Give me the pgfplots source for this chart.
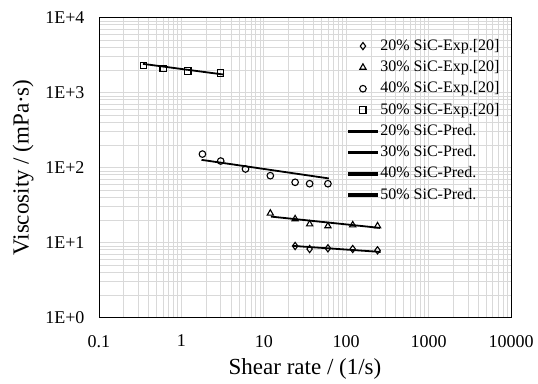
\documentclass[border=0pt]{standalone}
\usepackage{fontspec}
\setmainfont{Liberation Serif}
\usepackage{pgfplots}
\pgfplotsset{compat=1.18}
\definecolor{gridgray}{RGB}{217,217,217}
\pgfplotsset{predline/.style={black, line width=1.8pt, no marks, line cap=rect,
  legend image code/.code={\fill[black] (0pt,-0.9pt) rectangle (28pt,0.9pt);}}}
\begin{document}
\begin{tikzpicture}
\path[use as bounding box] (-99pt,-65.5pt) rectangle (439pt,317.5pt);
\begin{axis}[
  at={(0pt,0pt)}, anchor=south west,
  scale only axis, width=412pt, height=300pt,
  xmode=log, ymode=log,
  xmin=0.1, xmax=10000, ymin=1, ymax=10000,
  xtick={0.1,1,10,100,1000,10000},
  xticklabels={0.1,1,10,100,1000,10000},
  ytick={1,10,100,1000,10000},
  yticklabels={1E+0,1E+1,1E+2,1E+3,1E+4},
  minor xtick={0.2,0.3,0.4,0.5,0.6,0.7,0.8,0.9,2,3,4,5,6,7,8,9,20,30,40,50,60,70,80,90,200,300,400,500,600,700,800,900,2000,3000,4000,5000,6000,7000,8000,9000},
  minor ytick={2,3,4,5,6,7,8,9,20,30,40,50,60,70,80,90,200,300,400,500,600,700,800,900,2000,3000,4000,5000,6000,7000,8000,9000},
  major tick length=0pt, minor tick length=0pt,
  grid=both,
  major grid style={gridgray, line width=0.8pt},
  minor grid style={gridgray, line width=0.8pt},
  axis line style={black, line width=0.9pt},
  ticklabel style={font=\fontsize{18}{20}\selectfont},
  xticklabel style={yshift=-14pt},
  yticklabel style={xshift=-11pt},
  xlabel={Shear rate / (1/s)},
  ylabel={Viscosity / (mPa·s)},
  label style={font=\fontsize{23}{26}\selectfont},
  xlabel style={at={(axis description cs:0.5,-0.172)}, anchor=center},
  ylabel style={at={(axis description cs:-0.184,0.5)}, anchor=center},
  legend style={at={(axis description cs:0.604,0.932)}, anchor=north west,
    draw=none, fill=none, inner sep=0pt, row sep=5.3pt,
    font=\fontsize{16}{18}\selectfont,
    nodes={inner ysep=0pt, inner xsep=2.5pt, text height=12pt, text depth=4pt}},
  legend cell align=left,
  legend image code/.code={\draw[mark repeat=2,mark phase=2,#1] plot coordinates {(0pt,0pt) (14pt,0pt) (28pt,0pt)};},
]
\addplot[only marks, mark=diamond, mark size=3.6pt, mark options={black, fill=white, line width=1.1pt}] coordinates {(24,8.98)(36,8.19)(60,8.37)(120,8.19)(240,7.87)};
\addlegendentry{20\% SiC-Exp.[20]}
\addplot[only marks, mark=triangle, mark size=3.6pt, mark options={black, fill=white, line width=1.1pt}] coordinates {(12,24.5)(24,20.6)(36,17.6)(60,16.6)(120,17.1)(240,16.6)};
\addlegendentry{30\% SiC-Exp.[20]}
\addplot[only marks, mark=o, mark size=3.3pt, mark options={black, fill=white, line width=1.1pt}] coordinates {(1.8,151)(3,122)(6,95.5)(12,77.8)(24,63.5)(36,60.8)(60,60.8)};
\addlegendentry{40\% SiC-Exp.[20]}
\addplot[only marks, mark=square, mark size=3.1pt, mark options={black, fill=white, line width=1.1pt}] coordinates {(0.35,2305)(0.6,2103)(1.2,1935)(3,1820)};
\addlegendentry{50\% SiC-Exp.[20]}
\addplot[predline] coordinates {(23,9.0)(255,7.5)};
\addlegendentry{20\% SiC-Pred.}
\addplot[predline] coordinates {(12.5,22.1)(250,15.7)};
\addlegendentry{30\% SiC-Pred.}
\addplot[predline] coordinates {(1.8,126)(60,71.8)};
\addlegendentry{40\% SiC-Pred.}
\addplot[predline] coordinates {(0.35,2400)(3.2,1740)};
\addlegendentry{50\% SiC-Pred.}
\end{axis}
\end{tikzpicture}
\end{document}
